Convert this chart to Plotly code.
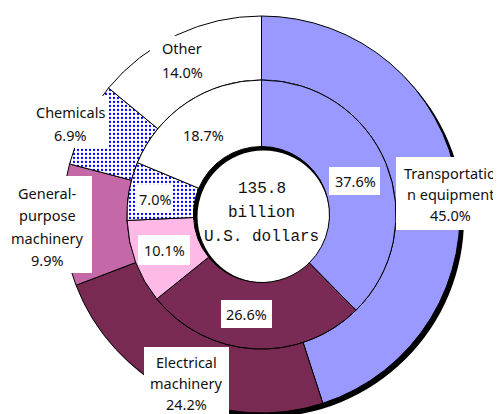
import plotly.graph_objects as go

# ---- data ----
categories = ["Transportation equipment", "Electrical machinery",
              "General-purpose machinery", "Chemicals", "Other"]
outer_values = [45.0, 24.2, 9.9, 6.9, 14.0]   # outer ring (%)
inner_values = [37.6, 26.6, 10.1, 7.0, 18.7]  # inner ring (%)
total_value = 135.8
total_unit = ["billion", "U.S. dollars"]
outer_label_lines = [["Transportatio", "n equipment"], ["Electrical", "machinery"],
                     ["General-", "purpose", "machinery"], ["Chemicals"], ["Other"]]

# ---- style ----
W, H = 501, 414
OFF = 8  # page body margin
colors = ["#9999FF", "#782a53", "#c468a8", "#FFFFFF", "#FFFFFF"]
inner_colors = ["#9999FF", "#7a2b55", "#ffb9e6", "#FFFFFF", "#FFFFFF"]
pat_shapes = ["", "", "", ".", ""]
FONT = "Noto Sans"
FS = 14.5

cx, cy = 261.5, 214.5
R_out, R_mid, R_hole = 198.5, 134.5, 68


def px(x):
    return (x - OFF) / W


def py(y):
    return (H - (y - OFF)) / H


def dom(r):
    return dict(x=[px(cx - r), px(cx + r)], y=[py(cy + r), py(cy - r)])


fig = go.Figure()
fig.add_trace(go.Pie(
    values=outer_values, labels=categories, sort=False, direction="clockwise",
    rotation=0, hole=R_mid / R_out, domain=dom(R_out), textinfo="none",
    hoverinfo="label+percent", showlegend=False,
    marker=dict(colors=colors, line=dict(color="black", width=1),
                pattern=dict(shape=pat_shapes, fgcolor="#0000FF", bgcolor="#FFFFFF",
                             size=4, solidity=0.25))))
fig.add_trace(go.Pie(
    values=inner_values, labels=categories, sort=False, direction="clockwise",
    rotation=0, hole=R_hole / R_mid, domain=dom(R_mid), textinfo="none",
    hoverinfo="label+percent", showlegend=False,
    marker=dict(colors=inner_colors, line=dict(color="black", width=1),
                pattern=dict(shape=pat_shapes, fgcolor="#0000FF", bgcolor="#FFFFFF",
                             size=4, solidity=0.25))))

shapes = []


def circle(x, y, r, color, layer="below"):
    shapes.append(dict(type="circle", xref="paper", yref="paper", layer=layer,
                       x0=px(x - r), x1=px(x + r), y0=py(y + r), y1=py(y - r),
                       fillcolor=color, line=dict(width=0)))


# drop shadow of the outer ring and inner shadow of the centre disc
circle(cx + 4, cy + 4, R_out, "#000000")
circle(cx, cy, R_hole, "#000000")
circle(cx + 2, cy + 2, R_hole - 2, "#FFFFFF")


def box(x0, y0, x1, y1):
    shapes.append(dict(type="rect", xref="paper", yref="paper", layer="above",
                       x0=px(x0), x1=px(x1), y0=py(y1), y1=py(y0),
                       fillcolor="white", line=dict(width=0)))


# white label boxes (pixel extents in the picture)
outer_boxes = [(396, 157, 515, 230), (144, 347, 229, 425), (0, 176, 92, 273),
               (28, 96, 108, 148), (150, 36, 214, 84)]
inner_boxes = [(329, 167, 380, 195), (221, 300, 272, 328), (138, 235, 190, 265),
               (137, 185, 172, 213), (184, 122, 223, 148)]
for b in outer_boxes + inner_boxes:
    box(*b)

annotations = []


def text(t, x, y, size=FS, family=FONT):
    annotations.append(dict(text=t, x=px(x), y=py(y), xref="paper", yref="paper",
                            showarrow=False, xanchor="center", yanchor="middle",
                            font=dict(family=family, size=size, color="#111111")))


# outer labels: (centre x, first line y, line step)
outer_pos = [(450, 173, 21), (186, 362, 21), (47, 193, 22.3), (70, 112, 23), (182, 48, 24)]
for lines, v, (x, y0, step) in zip(outer_label_lines, outer_values, outer_pos):
    all_lines = lines + [f"{v:.1f}%"]
    for i, ln in enumerate(all_lines):
        text(ln, x, y0 + i * step)

inner_pos = [(355, 181), (246, 314), (164, 250), (155, 199), (203, 135)]
for v, (x, y) in zip(inner_values, inner_pos):
    text(f"{v:.1f}%", x, y)

centre_lines = [f"{total_value:.1f}"] + total_unit
for i, ln in enumerate(centre_lines):
    text(ln, cx, 189 + i * 24, size=16, family="Liberation Mono")

fig.update_layout(width=W, height=H, autosize=False,
                  margin=dict(l=0, r=0, t=0, b=0),
                  paper_bgcolor="white", plot_bgcolor="white",
                  shapes=shapes, annotations=annotations, showlegend=False)

fig.write_html("out.html")
